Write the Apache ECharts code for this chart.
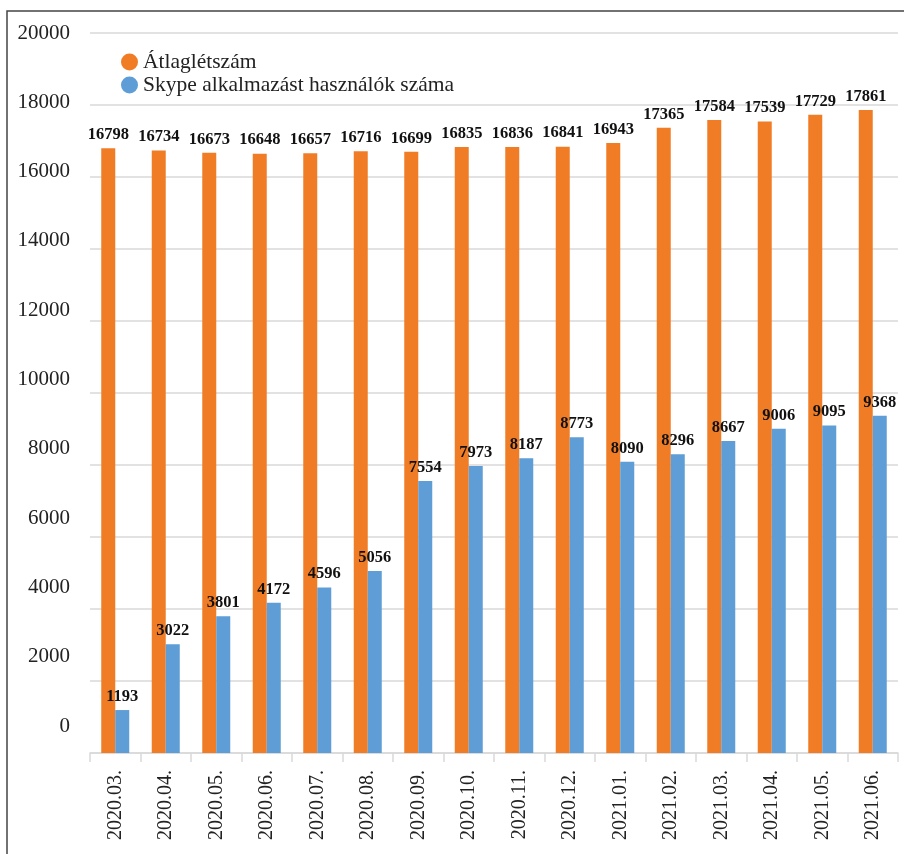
<!DOCTYPE html>
<html>
<head>
<meta charset="utf-8">
<script src="https://cdn.jsdelivr.net/npm/echarts@6/dist/echarts.min.js"></script>
<style>
html,body{margin:0;padding:0;background:#fff;}
#chart{width:904px;height:854px;}
</style>
</head>
<body>
<div id="chart"></div>
<script>
var categories = ['2020.03.','2020.04.','2020.05.','2020.06.','2020.07.','2020.08.','2020.09.','2020.10.','2020.11.','2020.12.','2021.01.','2021.02.','2021.03.','2021.04.','2021.05.','2021.06.'];
var atlaglétszám = [16798,16734,16673,16648,16657,16716,16699,16835,16836,16841,16943,17365,17584,17539,17729,17861];
var skype = [1193,3022,3801,4172,4596,5056,7554,7973,8187,8773,8090,8296,8667,9006,9095,9368];
var seriesNames = ['Átlaglétszám','Skype alkalmazást használók száma'];
var yMin = 0, yMax = 20000, yStep = 2000;

var serif = '"Liberation Serif", "Times New Roman", serif';
var chart = echarts.init(document.getElementById('chart'));
var labelStyle = {show:true, position:'top', distance:5, fontFamily:serif, fontWeight:'bold', fontSize:16.5, color:'#111'};
chart.setOption({
  animation:false,
  backgroundColor:'#fff',
  graphic:[{type:'rect', shape:{x:7, y:11, width:1000, height:1000}, style:{fill:'none', stroke:'#444', lineWidth:1.5}, silent:true}],
  legend:{
    orient:'vertical', left:116, top:46, itemGap:1, itemWidth:17, itemHeight:17, icon:'circle',
    textStyle:{fontFamily:serif, fontSize:21.5, lineHeight:21, color:'#222'},
    data:seriesNames
  },
  grid:[
    {left:90, right:6, top:33, bottom:101},
    {left:90, right:6, top:33, bottom:128}
  ],
  xAxis:[
    {type:'category', gridIndex:0, data:categories,
     axisLine:{lineStyle:{color:'#d9d9d9', width:1.5}},
     axisTick:{show:true, length:9, lineStyle:{color:'#d9d9d9', width:1.5}},
     axisLabel:{rotate:90, margin:17, fontFamily:serif, fontSize:20, color:'#222'}},
    {type:'category', gridIndex:1, data:categories, show:false}
  ],
  yAxis:[
    {type:'value', gridIndex:0, min:yMin, max:yMax, interval:yStep,
     axisLabel:{show:false}, axisLine:{show:false}, axisTick:{show:false},
     splitLine:{lineStyle:{color:'#d9d9d9', width:1.5}}},
    {type:'value', gridIndex:1, min:yMin, max:yMax, interval:yStep,
     axisLabel:{margin:20, fontFamily:serif, fontSize:21, color:'#222', formatter:function(v){return String(v);}},
     axisLine:{show:false}, axisTick:{show:false}, splitLine:{show:false}}
  ],
  series:[
    {name:seriesNames[0], type:'bar', xAxisIndex:0, yAxisIndex:0, data:atlaglétszám, barWidth:14, barGap:'0%',
     itemStyle:{color:'#F07D26'}, label:labelStyle},
    {name:seriesNames[1], type:'bar', xAxisIndex:0, yAxisIndex:0, data:skype, barWidth:14, barGap:'0%',
     itemStyle:{color:'#5E9DD5'}, label:labelStyle}
  ]
});
</script>
</body>
</html>
